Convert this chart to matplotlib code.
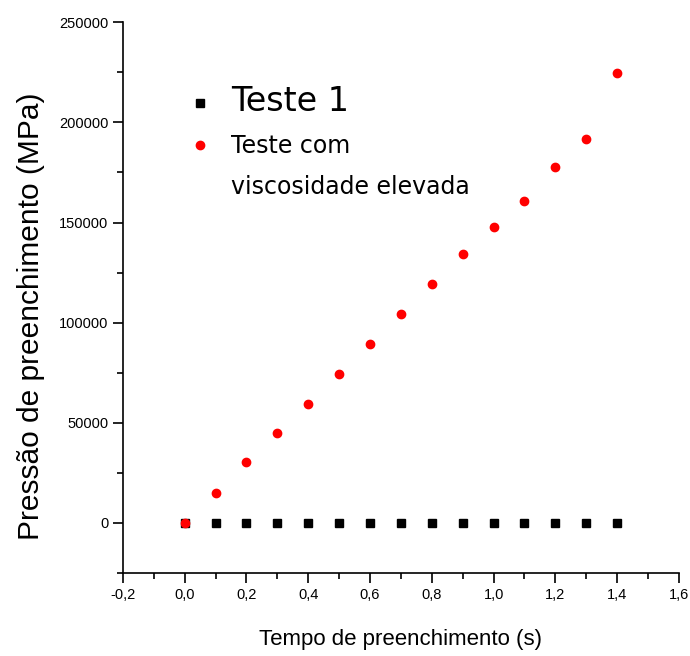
import matplotlib
matplotlib.use("Agg")
import matplotlib.pyplot as plt
from matplotlib.lines import Line2D
from matplotlib.ticker import MultipleLocator, FuncFormatter

# data
tempo = [0.0, 0.1, 0.2, 0.3, 0.4, 0.5, 0.6, 0.7, 0.8, 0.9, 1.0, 1.1, 1.2, 1.3, 1.4]
pressao_teste1 = [0] * 15
pressao_viscosa = [0, 15000, 30500, 45000, 59600, 74200, 89200, 104200,
                   119200, 134300, 147800, 160800, 177900, 191900, 224500]

plt.rcParams['font.family'] = ['Liberation Sans', 'DejaVu Sans']

fig = plt.figure(figsize=(6.9, 6.56), dpi=100)
ax = fig.add_axes([0.178, 0.1265, 0.806, 0.8395])

h1, = ax.plot(tempo, pressao_teste1, linestyle='none', marker='s', color='black',
              markersize=5.5)
h2, = ax.plot(tempo, pressao_viscosa, linestyle='none', marker='o', color='red',
              markersize=6)

ax.set_xlim(-0.2, 1.6)
ax.set_ylim(-25000, 250000)
ax.xaxis.set_major_locator(MultipleLocator(0.2))
ax.xaxis.set_minor_locator(MultipleLocator(0.1))
ax.yaxis.set_major_locator(MultipleLocator(50000))
ax.yaxis.set_minor_locator(MultipleLocator(25000))
ax.xaxis.set_major_formatter(FuncFormatter(lambda v, p: f"{v:.1f}".replace('.', ',')))
ax.yaxis.set_major_formatter(FuncFormatter(lambda v, p: f"{int(round(v))}"))

for side in ['top', 'right']:
    ax.spines[side].set_visible(False)
ax.spines['left'].set_linewidth(1.2)
ax.spines['bottom'].set_linewidth(1.2)
ax.tick_params(which='major', direction='out', length=7, width=1.2, labelsize=10.5)
ax.tick_params(which='minor', direction='out', length=4, width=1.2)

ax.set_xlabel("Tempo de preenchimento (s)", fontsize=16, labelpad=20)
ax.set_ylabel("Pressão de preenchimento (MPa)", fontsize=21.5)
ax.yaxis.set_label_coords(-0.14, 0.467)

blank = Line2D([], [], linestyle='none')
leg = ax.legend([h1, h2, blank], ["Teste 1", "Teste com", "viscosidade elevada"],
                loc='upper left', bbox_to_anchor=(0.08, 0.925), frameon=False,
                handletextpad=0.8, labelspacing=0.7, handlelength=1.0,
                prop={'family': 'DejaVu Sans', 'size': 17})
leg.get_texts()[0].set_fontsize(24)

fig.savefig("out.png", dpi=100)
